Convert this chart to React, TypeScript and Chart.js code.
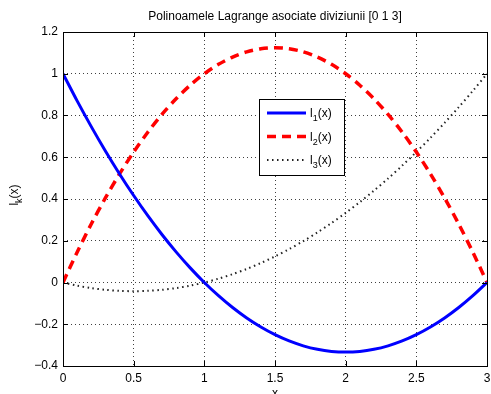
import React, { useEffect, useRef } from "react";
import { Chart, registerables } from "chart.js";

Chart.register(...registerables);

// Sample points on [0, 3]
const xs = [
  0, 0.1, 0.2, 0.3, 0.4, 0.5, 0.6, 0.7, 0.8, 0.9, 1.0, 1.1, 1.2, 1.3, 1.4, 1.5,
  1.6, 1.7, 1.8, 1.9, 2.0, 2.1, 2.2, 2.3, 2.4, 2.5, 2.6, 2.7, 2.8, 2.9, 3.0,
];

// l1(x)
const l1 = [
  1, 0.87, 0.7467, 0.63, 0.52, 0.4167, 0.32, 0.23, 0.1467, 0.07, 0, -0.0633,
  -0.12, -0.17, -0.2133, -0.25, -0.28, -0.3033, -0.32, -0.33, -0.3333, -0.33,
  -0.32, -0.3033, -0.28, -0.25, -0.2133, -0.17, -0.12, -0.0633, 0,
];

// l2(x)
const l2 = [
  0, 0.145, 0.28, 0.405, 0.52, 0.625, 0.72, 0.805, 0.88, 0.945, 1, 1.045, 1.08,
  1.105, 1.12, 1.125, 1.12, 1.105, 1.08, 1.045, 1, 0.945, 0.88, 0.805, 0.72,
  0.625, 0.52, 0.405, 0.28, 0.145, 0,
];

// l3(x)
const l3 = [
  0, -0.015, -0.0267, -0.035, -0.04, -0.0417, -0.04, -0.035, -0.0267, -0.015, 0,
  0.0183, 0.04, 0.065, 0.0933, 0.125, 0.16, 0.1983, 0.24, 0.285, 0.3333, 0.385,
  0.44, 0.4983, 0.56, 0.625, 0.6933, 0.765, 0.84, 0.9183, 1,
];

const xTicks = [0, 0.5, 1, 1.5, 2, 2.5, 3];
const yTicks = [-0.4, -0.2, 0, 0.2, 0.4, 0.6, 0.8, 1, 1.2];

const titleText = "Polinoamele Lagrange asociate diviziunii [0 1 3]";
const xLabel = "x";
const yLabelMain = "l";
const yLabelSub = "k";
const yLabelTail = "(x)";
const legendSubs = ["1", "2", "3"];

const FONT = '"Liberation Sans", Arial, Helvetica, sans-serif';

const seriesStyles = [
  { color: "#0000ff", width: 3, dash: [] as number[] },
  { color: "#ff0000", width: 3.5, dash: [9, 6] },
  { color: "#222222", width: 2, dash: [1.5, 3.5] },
];

const fmt = (v: number) => {
  const r = Math.round(v * 10) / 10;
  const s = Number.isInteger(r) ? String(r) : r.toFixed(1);
  return s.replace("-", "\u2212");
};

// Draws main + subscript + tail, left aligned at x
function drawSubText(
  ctx: CanvasRenderingContext2D,
  x: number,
  y: number,
  main: string,
  sub: string,
  tail: string,
  size: number
) {
  ctx.textAlign = "left";
  ctx.textBaseline = "alphabetic";
  ctx.font = `${size}px ${FONT}`;
  ctx.fillText(main, x, y);
  let cx = x + ctx.measureText(main).width;
  ctx.font = `${Math.round(size * 0.75)}px ${FONT}`;
  ctx.fillText(sub, cx, y + size * 0.35);
  cx += ctx.measureText(sub).width;
  ctx.font = `${size}px ${FONT}`;
  ctx.fillText(tail, cx, y);
}

function measureSubText(
  ctx: CanvasRenderingContext2D,
  main: string,
  sub: string,
  tail: string,
  size: number
) {
  ctx.font = `${size}px ${FONT}`;
  let w = ctx.measureText(main).width + ctx.measureText(tail).width;
  ctx.font = `${Math.round(size * 0.75)}px ${FONT}`;
  w += ctx.measureText(sub).width;
  return w;
}

const decorPlugin = {
  id: "decor",
  afterDraw(chart: any) {
    const { ctx, chartArea, scales } = chart;
    const { left, right, top, bottom } = chartArea;
    const xs_ = scales.x;
    const ys_ = scales.y;
    ctx.save();

    // axes box
    ctx.strokeStyle = "#000";
    ctx.lineWidth = 1;
    ctx.setLineDash([]);
    ctx.strokeRect(Math.round(left) + 0.5, Math.round(top) + 0.5, Math.round(right - left), Math.round(bottom - top));

    // inward tick marks on all four sides
    const tl = 5;
    ctx.beginPath();
    xTicks.forEach((v) => {
      const px = Math.round(xs_.getPixelForValue(v)) + 0.5;
      ctx.moveTo(px, bottom);
      ctx.lineTo(px, bottom - tl);
      ctx.moveTo(px, top);
      ctx.lineTo(px, top + tl);
    });
    yTicks.forEach((v) => {
      const py = Math.round(ys_.getPixelForValue(v)) + 0.5;
      ctx.moveTo(left, py);
      ctx.lineTo(left + tl, py);
      ctx.moveTo(right, py);
      ctx.lineTo(right - tl, py);
    });
    ctx.stroke();

    // title
    ctx.fillStyle = "#000";
    ctx.font = `12px ${FONT}`;
    ctx.textAlign = "center";
    ctx.textBaseline = "middle";
    ctx.fillText(titleText, (left + right) / 2, 17);

    // x axis label
    ctx.textBaseline = "top";
    ctx.fillText(xLabel, (left + right) / 2, 388);

    // y axis label (rotated, with subscript)
    ctx.save();
    ctx.translate(14, 195);
    ctx.rotate(-Math.PI / 2);
    const w = measureSubText(ctx, yLabelMain, yLabelSub, yLabelTail, 12);
    drawSubText(ctx, -w / 2, 4, yLabelMain, yLabelSub, yLabelTail, 12);
    ctx.restore();

    // legend
    const bx = 259.5, by = 99.5, bw = 85, bh = 76;
    ctx.fillStyle = "#fff";
    ctx.fillRect(bx, by, bw, bh);
    ctx.strokeStyle = "#000";
    ctx.lineWidth = 1;
    ctx.strokeRect(bx, by, bw, bh);
    const rows = [113, 136.5, 160];
    rows.forEach((ry, i) => {
      const st = seriesStyles[i];
      ctx.beginPath();
      ctx.strokeStyle = st.color;
      ctx.lineWidth = st.width;
      ctx.setLineDash(st.dash);
      ctx.moveTo(267, ry);
      ctx.lineTo(306, ry);
      ctx.stroke();
      ctx.setLineDash([]);
      ctx.fillStyle = "#000";
      drawSubText(ctx, 310, ry + 4, "l", legendSubs[i], "(x)", 12);
    });

    ctx.restore();
  },
};

export default function App() {
  const canvasRef = useRef<HTMLCanvasElement | null>(null);

  useEffect(() => {
    if (!canvasRef.current) return;
    const mk = (ys: number[]) => xs.map((x, i) => ({ x, y: ys[i] }));
    const seriesData = [l1, l2, l3];
    const chart = new Chart(canvasRef.current, {
      type: "line",
      data: {
        datasets: seriesData.map((d, i) => ({
          label: `l${legendSubs[i]}(x)`,
          data: mk(d),
          borderColor: seriesStyles[i].color,
          borderWidth: seriesStyles[i].width,
          borderDash: seriesStyles[i].dash,
          pointRadius: 0,
          tension: 0.3,
          fill: false,
        })),
      },
      options: {
        responsive: false,
        animation: false,
        events: [],
        layout: { padding: { top: 32, right: 4, left: 0, bottom: 0 } },
        plugins: {
          legend: { display: false },
          title: { display: false },
          tooltip: { enabled: false },
        },
        scales: {
          x: {
            type: "linear",
            min: 0,
            max: 3,
            afterBuildTicks: (s: any) => {
              s.ticks = xTicks.map((v) => ({ value: v }));
            },
            afterFit: (s: any) => {
              s.height = 28;
              s.paddingRight = 0;
              s.paddingLeft = 0;
            },
            ticks: {
              padding: 5,
              color: "#000",
              font: { family: FONT, size: 12 },
              maxRotation: 0,
              callback: (v: any) => fmt(Number(v)),
            },
            grid: {
              color: "rgba(0,0,0,0.75)",
              lineWidth: 1,
              drawTicks: false,
            },
            border: { display: false, dash: [1, 3] },
          },
          y: {
            type: "linear",
            min: -0.4,
            max: 1.2,
            afterBuildTicks: (s: any) => {
              s.ticks = yTicks.map((v) => ({ value: v }));
            },
            afterFit: (s: any) => {
              s.width = 63;
              s.paddingTop = 0;
              s.paddingBottom = 0;
            },
            ticks: {
              padding: 5,
              color: "#000",
              font: { family: FONT, size: 12 },
              callback: (v: any) => fmt(Number(v)),
            },
            grid: {
              color: "rgba(0,0,0,0.75)",
              lineWidth: 1,
              drawTicks: false,
            },
            border: { display: false, dash: [1, 3] },
          },
        },
      },
      plugins: [decorPlugin],
    });
    return () => chart.destroy();
  }, []);

  return (
    <div style={{ position: "fixed", left: 0, top: 0, width: 491, height: 394, background: "#fff" }}>
      <canvas ref={canvasRef} width={491} height={394} />
    </div>
  );
}
